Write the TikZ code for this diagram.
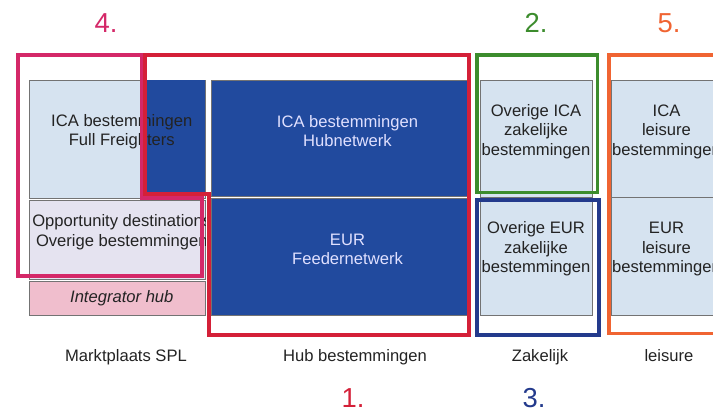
\documentclass[tikz,border=0pt]{standalone}
\usepackage{fontspec}
\setmainfont{Liberation Sans}

\definecolor{lichtblauw}{RGB}{214,227,240}
\definecolor{donkerblauw}{RGB}{33,74,158}
\definecolor{lila}{RGB}{229,227,240}
\definecolor{roze}{RGB}{240,190,205}
\definecolor{rood}{RGB}{212,32,56}
\definecolor{groen}{RGB}{60,140,45}
\definecolor{blauw}{RGB}{35,58,140}
\definecolor{magenta}{RGB}{212,40,104}
\definecolor{oranje}{RGB}{240,100,50}
\definecolor{tekst}{RGB}{35,35,35}

\begin{document}
\begin{tikzpicture}[x=0.025cm, y=-0.025cm]
  \tikzstyle{cell}=[rectangle, draw=black!55, line width=0.5pt, inner sep=0pt, fill=lichtblauw]
  \tikzstyle{txt}=[font=\fontsize{11.8}{13.8}\selectfont, align=center, text=tekst]
  \tikzstyle{intxt}=[txt, yshift=0.18cm]
  \tikzstyle{dark}=[text=white!88!blue]
  \tikzstyle{frame}=[line width=2.8pt]
  \tikzstyle{num}=[font=\fontsize{19.5}{21}\selectfont, anchor=base]
  \tikzstyle{onder}=[txt, anchor=base]

  \useasboundingbox (0,0) rectangle (713,412);

  % Marktplaats SPL
  \node[cell, minimum width=4.4cm, minimum height=2.95cm] (ff) at (117,139) {};
  \fill[donkerblauw] (145,80) rectangle (205,196);
  \node[intxt, xshift=0.12cm] at (ff) {ICA bestemmingen\\Full Freighters};
  \node[cell, fill=lila, minimum width=4.4cm, minimum height=1.975cm] (opp) at (117,239.5) {};
  \begin{scope}
    \clip (opp.south west) rectangle (opp.north east);
    \node[intxt, xshift=0.12cm] at (opp) {Opportunity destinations\\Overige bestemmingen};
  \end{scope}
  \node[cell, fill=roze, minimum width=4.4cm, minimum height=0.85cm] (integ) at (117,298) {};
  \node[txt, font=\fontsize{11.8}{13.8}\selectfont\itshape, xshift=0.12cm] at (integ) {Integrator hub};

  % Hub bestemmingen
  \node[cell, fill=donkerblauw, minimum width=6.425cm, minimum height=2.9cm] (hubica) at (339.5,138) {};
  \node[cell, fill=donkerblauw, minimum width=6.425cm, minimum height=2.925cm] (hubeur) at (339.5,256.5) {};
  \node[intxt, dark, xshift=0.2cm] at (hubica) {ICA bestemmingen\\Hubnetwerk};
  \node[intxt, dark, xshift=0.2cm] at (hubeur) {EUR\\Feedernetwerk};

  % Zakelijk
  \node[cell, minimum width=2.8cm, minimum height=2.94cm] (zica) at (536,138.75) {};
  \node[cell, minimum width=2.8cm, minimum height=2.94cm] (zeur) at (536,256.25) {};
  \node[intxt] at (zica) {Overige ICA\\zakelijke\\bestemmingen};
  \node[intxt] at (zeur) {Overige EUR\\zakelijke\\bestemmingen};

  % Leisure
  \node[cell, minimum width=2.775cm, minimum height=2.94cm] (lica) at (666.5,138.75) {};
  \node[cell, minimum width=2.775cm, minimum height=2.94cm] (leur) at (666.5,256.25) {};
  \node[intxt] at (lica) {ICA\\leisure\\bestemmingen};
  \node[intxt] at (leur) {EUR\\leisure\\bestemmingen};

  % Kaders
  \draw[frame, magenta] (18,55) -- (142,55) -- (142,198) -- (202,198) -- (202,276) -- (18,276) -- cycle;
  \draw[frame, rood] (145,55) -- (469,55) -- (469,335) -- (209,335) -- (209,194) -- (145,194) -- cycle;
  \draw[frame, groen] (477,55) rectangle (597.5,192.5);
  \draw[frame, blauw] (477,200) rectangle (599,335);
  \draw[frame, oranje] (609,55) rectangle (740,333.5);

  % Onderschriften
  \node[onder] (spl) at (126,362) {Marktplaats SPL};
  \node[onder] (hub) at (355,362) {Hub bestemmingen};
  \node[onder] (zak) at (540,362) {Zakelijk};
  \node[onder] (lei) at (669,362) {leisure};

  % Nummers
  \node[num, text=magenta] (n4) at (106,33) {4.};
  \node[num, text=groen] (n2) at (536,33) {2.};
  \node[num, text=oranje] (n5) at (669,33) {5.};
  \node[num, text=rood] (n1) at (353,408) {1.};
  \node[num, text=blauw] (n3) at (534,408) {3.};
\end{tikzpicture}
\end{document}
